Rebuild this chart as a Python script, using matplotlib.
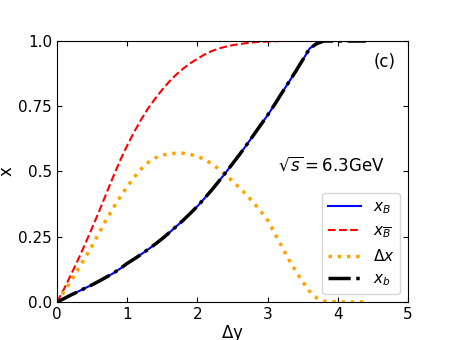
import matplotlib
matplotlib.use("Agg")
import matplotlib.pyplot as plt

# data (step 0.1 in delta y)
dy = [round(0.1 * i, 1) for i in range(45)]
x_B = [0.0, 0.013, 0.027, 0.04, 0.053, 0.066, 0.08, 0.095, 0.11, 0.128,
       0.148, 0.165, 0.183, 0.202, 0.222, 0.243, 0.266, 0.29, 0.314, 0.34,
       0.367, 0.397, 0.428, 0.461, 0.495, 0.53, 0.565, 0.602, 0.64, 0.678,
       0.716, 0.757, 0.8, 0.842, 0.884, 0.928, 0.972, 0.99, 1.0, 1.0,
       1.0, 1.0, 1.0, 1.0, 1.0]
x_Bbar = [0.0, 0.05, 0.105, 0.162, 0.222, 0.284, 0.348, 0.414, 0.48, 0.543,
          0.6, 0.652, 0.7, 0.743, 0.78, 0.814, 0.845, 0.872, 0.895, 0.915,
          0.932, 0.948, 0.961, 0.971, 0.978, 0.984, 0.988, 0.992, 0.995, 0.997,
          0.998, 0.999, 1.0, 1.0, 1.0, 1.0, 1.0, 1.0, 1.0, 1.0,
          1.0, 1.0, 1.0, 1.0, 1.0]
delta_x = [0.0, 0.04, 0.08, 0.125, 0.17, 0.215, 0.265, 0.315, 0.36, 0.402,
           0.442, 0.478, 0.51, 0.535, 0.552, 0.563, 0.568, 0.57, 0.57, 0.565,
           0.558, 0.546, 0.53, 0.51, 0.488, 0.463, 0.437, 0.41, 0.38, 0.348,
           0.313, 0.263, 0.213, 0.163, 0.118, 0.077, 0.04, 0.015, 0.004, 0.001,
           0.0, 0.0, 0.0, 0.0, 0.0]
x_b = x_B

yticks = [0.0, 0.25, 0.5, 0.75, 1.0]
ytick_labels = ["0.0", "0.25", "0.5", "0.75", "1.0"]

fig = plt.figure(figsize=(4.54, 3.4), dpi=100)
ax = fig.add_axes([0.1256, 0.1118, 0.7733, 0.7676])

ax.plot(dy, x_B, color="blue", lw=1.5, label=r"$x_B$")
ax.plot(dy, x_Bbar, color="red", lw=1.5, ls="--", label=r"$x_{\overline{B}}$")
ax.plot(dy, delta_x, color="orange", lw=2.5, ls=":", label=r"$\Delta x$")
ax.plot(dy, x_b, color="black", lw=2.5, ls="-.", label=r"$x_b$")

ax.set_xlim(0, 5)
ax.set_ylim(0, 1)
ax.set_yticks(yticks)
ax.set_yticklabels(ytick_labels)
ax.tick_params(direction="in", top=True, right=True, labelsize=11)
ax.set_xlabel(r"$\Delta$y", fontsize=12, labelpad=1)
ax.set_ylabel("x", fontsize=12, labelpad=2)

ax.text(0.934, 0.92, "(c)", transform=ax.transAxes, fontsize=12, ha="center", va="center")
ax.text(0.78, 0.525, r"$\sqrt{s}$$=$6.3GeV", transform=ax.transAxes, fontsize=12,
        ha="center", va="center")

ax.legend(loc="lower right", fontsize=11, handlelength=2.1)

fig.savefig("out.png", dpi=100)
